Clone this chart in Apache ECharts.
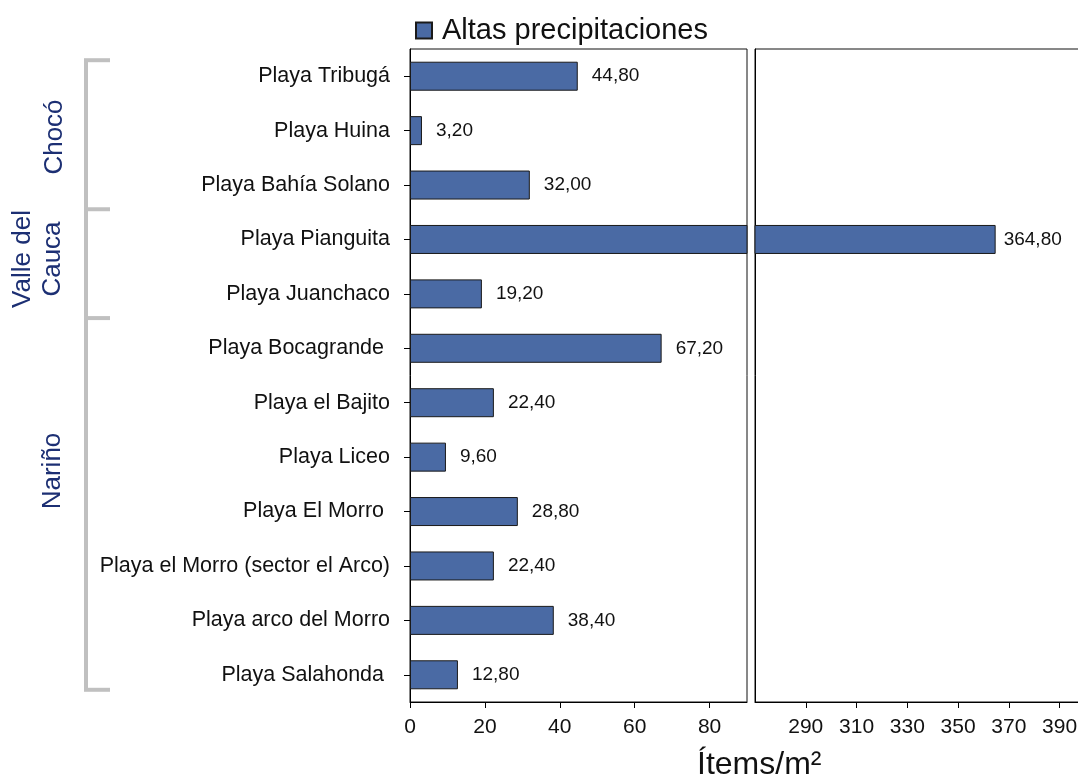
<!DOCTYPE html>
<html>
<head>
<meta charset="utf-8">
<script src="https://cdn.jsdelivr.net/npm/echarts@6/dist/echarts.min.js"></script>
<style>
  html, body { margin: 0; padding: 0; background: #fff; }
  #chart { width: 1078px; height: 780px; }
</style>
</head>
<body>
<div id="chart"></div>
<script>
const categories = [
  'Playa Tribugá', 'Playa Huina', 'Playa Bahía Solano', 'Playa Pianguita',
  'Playa Juanchaco', 'Playa Bocagrande ', 'Playa el Bajito', 'Playa Liceo',
  'Playa El Morro ', 'Playa el Morro (sector el Arco)', 'Playa arco del Morro', 'Playa Salahonda '
]
const values = [44.8, 3.2, 32.0, 364.8, 19.2, 67.2, 22.4, 9.6, 28.8, 22.4, 38.4, 12.8]
const leftTicks = [0, 20, 40, 60, 80]
const rightTicks = [290, 310, 330, 350, 370, 390]
const groupNames = ['Chocó', 'Valle del\nCauca', 'Nariño']
const groupFirst = [0, 3, 5]
const groupLast = [2, 4, 11]

const FONT = '"Liberation Sans", Arial, sans-serif'
const seriesName = 'Altas precipitaciones'
const fmt = v => v.toFixed(2).replace('.', ',')

const chart = echarts.init(document.getElementById('chart'))

const barStyle = { color: '#4a6aa4', borderColor: '#1a1a1a', borderWidth: 1 }

const valueAxisBase = {
  type: 'value',
  splitLine: { show: false },
  axisLine: { show: true, lineStyle: { color: '#000' } },
  axisTick: { show: true, length: 6, lineStyle: { color: '#000' } },
  axisLabel: { color: '#111', fontSize: 21, fontFamily: FONT, margin: 15 }
}

const option = {
  animation: false,
  legend: {
    data: [seriesName],
    left: 410,
    top: 11,
    itemWidth: 16,
    itemHeight: 16,
    icon: 'rect',
    textStyle: { fontSize: 29, fontFamily: FONT, color: '#111', padding: [0, 0, 0, 5] }
  },
  grid: [
    { left: 410, top: 49, width: 337, height: 653, show: true, borderColor: '#111', borderWidth: 1, outerBoundsMode: 'none' },
    { left: 755, top: 49, width: 330, height: 653, show: true, borderColor: '#111', borderWidth: 1, outerBoundsMode: 'none' }
  ],
  xAxis: [
    {
      ...valueAxisBase, gridIndex: 0, min: 0, max: 90,
      axisTick: { ...valueAxisBase.axisTick, customValues: leftTicks },
      axisLabel: { ...valueAxisBase.axisLabel, customValues: leftTicks }
    },
    {
      ...valueAxisBase, gridIndex: 1, min: 270, max: 400,
      axisTick: { ...valueAxisBase.axisTick, customValues: rightTicks },
      axisLabel: { ...valueAxisBase.axisLabel, customValues: rightTicks }
    }
  ],
  yAxis: [
    {
      type: 'category', gridIndex: 0, data: categories, inverse: true,
      axisLine: { show: true, lineStyle: { color: '#000' } },
      axisTick: { show: true, alignWithLabel: true, length: 6, lineStyle: { color: '#000' } },
      axisLabel: { color: '#111', fontSize: 21.5, fontFamily: FONT, margin: 20 }
    },
    {
      type: 'category', gridIndex: 1, data: categories, inverse: true,
      axisLine: { show: true, lineStyle: { color: '#000' } },
      axisTick: { show: false },
      axisLabel: { show: false }
    }
  ],
  series: [
    {
      name: seriesName, type: 'bar', xAxisIndex: 0, yAxisIndex: 0,
      data: values, barWidth: 29, itemStyle: barStyle,
      label: {
        show: true, position: 'right', distance: 14,
        fontSize: 19, fontFamily: FONT, color: '#111',
        formatter: p => (p.value > 90 ? '' : fmt(p.value))
      }
    },
    {
      name: seriesName, type: 'bar', xAxisIndex: 1, yAxisIndex: 1,
      data: values, barWidth: 29, itemStyle: barStyle,
      label: {
        show: true, position: 'right', distance: 8,
        fontSize: 19, fontFamily: FONT, color: '#111',
        formatter: p => (p.value > 270 ? fmt(p.value) : '')
      }
    }
  ]
}

chart.setOption(option)

// left-hand grouping brackets, placed from the category axis
const yPix = i => chart.convertToPixel({ yAxisIndex: 0 }, i)
const bx = 86
const bracketTop = yPix(0) - 16
const bracketBottom = yPix(categories.length - 1) + 15
const cuts = [bracketTop]
groupLast.slice(0, -1).forEach(i => cuts.push((yPix(i) + yPix(i + 1)) / 2 - 3))
cuts.push(bracketBottom)

const bracketStyle = { stroke: '#c0c0c0', lineWidth: 4 }
const graphics = [
  { type: 'line', shape: { x1: bx, y1: bracketTop, x2: bx, y2: bracketBottom }, style: bracketStyle }
]
cuts.forEach(y => {
  graphics.push({ type: 'line', shape: { x1: bx - 2, y1: y, x2: 110, y2: y }, style: bracketStyle })
})

const groupLabelPos = [[55, 137], [38, 259], [53, 471]]
groupNames.forEach((name, k) => {
  graphics.push({
    type: 'text',
    x: groupLabelPos[k][0],
    y: groupLabelPos[k][1],
    rotation: Math.PI / 2,
    style: {
      text: name,
      font: '26px ' + FONT,
      fill: '#1c2f73',
      align: 'center',
      verticalAlign: 'middle',
      lineHeight: 30
    }
  })
})

graphics.push({
  type: 'text',
  x: 697,
  y: 765,
  style: {
    text: 'Ítems/m²',
    font: '32px ' + FONT,
    fill: '#111',
    align: 'left',
    verticalAlign: 'middle'
  }
})

chart.setOption({ graphic: graphics })
</script>
</body>
</html>
